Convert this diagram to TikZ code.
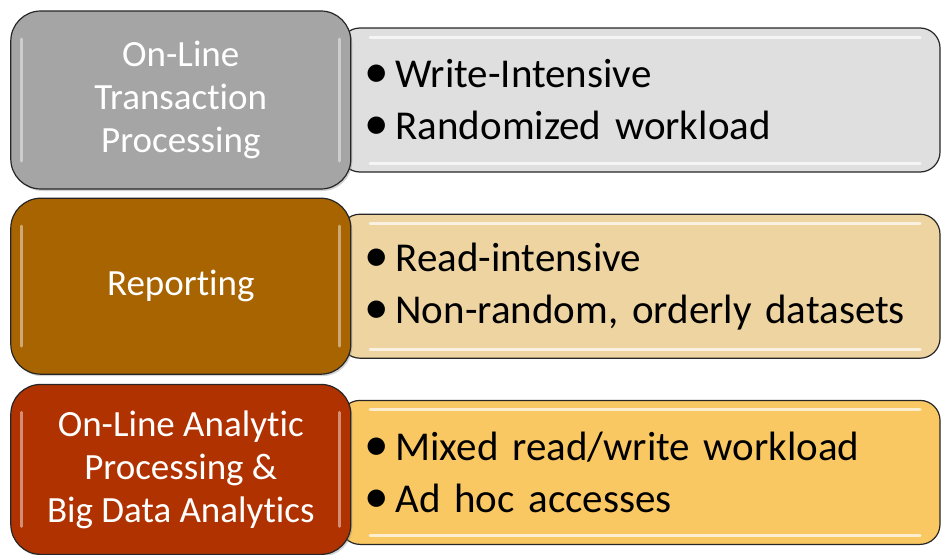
\documentclass[tikz,border=0pt]{standalone}
\usepackage{fontspec}
\setmainfont{Carlito}[RawFeature={-liga;-clig;-calt;-dlig}]
\usetikzlibrary{positioning,shadows}
\definecolor{oltpgray}{HTML}{A5A5A5}
\definecolor{oltplight}{HTML}{DFDFDF}
\definecolor{repbrown}{HTML}{A86400}
\definecolor{replight}{HTML}{EED4A1}
\definecolor{olapred}{HTML}{B03200}
\definecolor{olaplight}{HTML}{FAC862}
\newcommand{\itm}{\hspace*{9pt}\scalebox{1.2}{\textbullet}\hspace{7pt}}
\tikzset{
    kind/.style={draw=black!85,line width=1.2pt,rounded corners=30pt,
        minimum width=340pt,align=center,text=white,
        font=\fontsize{37}{43}\selectfont,
        drop shadow={shadow xshift=1.5pt,shadow yshift=-2pt,opacity=.35},
        path picture={
            \draw[white,opacity=.45,line width=3pt,line cap=round]
            ([xshift=11pt,yshift=-28pt]path picture bounding box.north west) -- ([xshift=11pt,yshift=28pt]path picture bounding box.south west)
            ([xshift=-11pt,yshift=-28pt]path picture bounding box.north east) -- ([xshift=-11pt,yshift=28pt]path picture bounding box.south east);
        }},
    traits/.style={draw=black!85,line width=1.2pt,rounded corners=20pt,
        minimum width=600pt,minimum height=144pt,text width=570pt,
        inner xsep=15pt,align=left,font=\fontsize{41}{52}\selectfont,
        path picture={
            \draw[white,opacity=.7,line width=3pt,line cap=round]
            ([xshift=30pt,yshift=-9pt]path picture bounding box.north west) -- ([xshift=-20pt,yshift=-9pt]path picture bounding box.north east)
            ([xshift=30pt,yshift=9pt]path picture bounding box.south west) -- ([xshift=-20pt,yshift=9pt]path picture bounding box.south east);
        }},
}

\begin{document}
\begin{tikzpicture}[x=1pt,y=-1pt]
    \useasboundingbox (0,0) rectangle (942,554);

    % workload traits, behind the category boxes
    \node[traits,fill=oltplight] (oltpnote) at (640,100)
        {\itm Write-Intensive\\\itm Randomized workload};
    \node[traits,fill=replight,below=41pt of oltpnote] (repnote)
        {\itm Read-intensive\\\itm Non-random, orderly datasets};
    \node[traits,fill=olaplight,below=41pt of repnote] (olapnote)
        {\itm Mixed read/write workload\\\itm Ad hoc accesses};

    % categories
    \node[kind,fill=oltpgray,minimum height=178pt,left=-12pt of oltpnote] (oltp)
        {On-Line\\Transaction\\Processing};
    \node[kind,fill=repbrown,minimum height=176pt,left=-12pt of repnote] (rep)
        {Reporting};
    \node[kind,fill=olapred,minimum height=170pt,left=-12pt of olapnote,yshift=3pt] (olap)
        {On-Line Analytic\\Processing \&\\Big Data Analytics};
\end{tikzpicture}
\end{document}
